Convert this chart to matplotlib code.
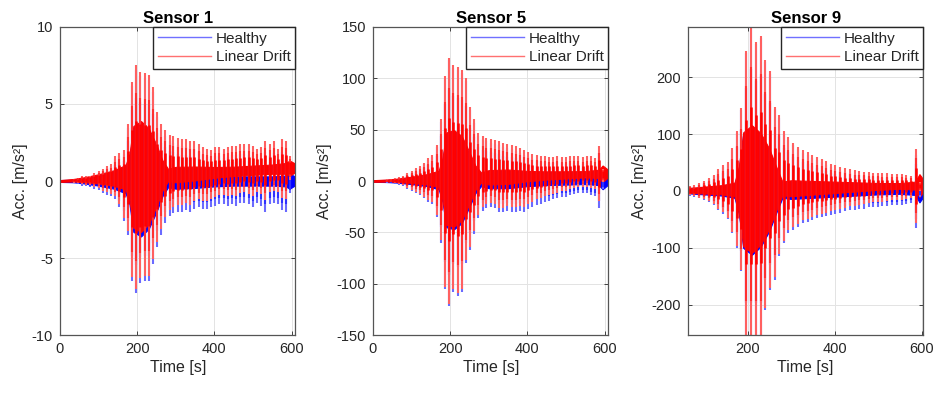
import numpy as np
import matplotlib.pyplot as plt
from matplotlib.lines import Line2D

plt.rcParams.update({"font.family": ["Liberation Sans", "DejaVu Sans"], "font.size": 10,
                     "axes.unicode_minus": False})

# spike (axle crossing) times, shared by all sensors [s]
T = [35, 46, 57, 68, 78, 89, 100, 111, 122, 132, 143, 154, 165, 176, 186,
     197, 208, 219, 230, 240, 251, 262, 273, 284, 294, 305, 316, 327, 338, 348,
     359, 370, 381, 392, 402, 413, 424, 435, 446, 456, 467, 478, 489, 500, 510,
     521, 532, 543, 554, 564, 575, 586, 597]
# time grid of the dense ringing band between spikes
CORE_T = [0, 34, 60, 100, 140, 170, 180, 190, 210, 230, 250, 265, 280, 300, 350,
          400, 450, 500, 550, 585, 595, 608]

# ---- Sensor 1 ----
s1_hi = [0.1, 0.14, 0.22, 0.25, 0.24, 0.38, 0.5, 0.64, 0.83, 0.92, 1.4, 1.63, 1.77, 3.45, 6.14,
         7.22, 6.81, 6.69, 6.58, 5.76, 4.15, 3.33, 2.92, 2.6, 2.49, 2.37, 2.26, 2.24, 2.13, 2.11,
         1.9, 1.68, 1.57, 1.45, 1.64, 1.62, 1.51, 1.59, 1.68, 1.66, 1.75, 1.73, 1.72, 1.6, 1.39,
         1.47, 1.86, 1.64, 1.82, 1.31, 1.9, 1.78, 0.76]
s1_lo = [-0.15, -0.2, -0.3, -0.35, -0.4, -0.5, -0.6, -0.8, -0.9, -1.0, -1.2, -1.7, -2.6, -3.5, -6.5,
         -7.3, -6.6, -6.5, -6.5, -5.4, -4.3, -3.5, -2.7, -2.3, -2.1, -2.0, -2.0, -1.9, -2.0, -1.8,
         -1.7, -1.8, -1.8, -1.7, -1.6, -1.5, -1.5, -1.6, -1.5, -1.6, -1.4, -1.4, -1.5, -1.7, -1.4,
         -1.6, -2.0, -1.5, -1.4, -1.5, -1.9, -2.0, -0.8]
s1_drift = [0.05, 0.06, 0.08, 0.1, 0.11, 0.12, 0.14, 0.16, 0.17, 0.18, 0.2, 0.22, 0.23, 0.25, 0.26,
            0.28, 0.29, 0.31, 0.32, 0.34, 0.35, 0.37, 0.38, 0.4, 0.41, 0.43, 0.44, 0.46, 0.47, 0.49,
            0.5, 0.52, 0.53, 0.55, 0.56, 0.58, 0.59, 0.61, 0.62, 0.64, 0.65, 0.67, 0.68, 0.7, 0.71,
            0.73, 0.74, 0.76, 0.78, 0.79, 0.8, 0.82, 0.84]
s1_core = [0.06, 0.08, 0.15, 0.3, 0.5, 0.8, 1.5, 3.3, 3.6, 3.1, 2.0, 1.0, 0.4, 0.5, 0.45,
           0.35, 0.3, 0.3, 0.3, 0.35, 0.5, 0.3]
s1_core_drift = [0, 0.05, 0.08, 0.14, 0.2, 0.24, 0.25, 0.27, 0.29, 0.32, 0.35, 0.37, 0.39, 0.42, 0.49,
                 0.56, 0.63, 0.7, 0.77, 0.82, 0.83, 0.85]

# ---- Sensor 5 ----
s5_hi = [1.1, 1.4, 1.8, 2.7, 4.1, 6.9, 8.8, 11.7, 13.5, 16.4, 20.3, 23.2, 33, 57.9, 99.8,
         117.6, 110.5, 108.4, 105.2, 97.1, 69, 56.9, 43.7, 40.6, 38.5, 37.3, 36.2, 35.1, 32.9, 31.8,
         30.7, 29.6, 27.4, 25.3, 23.2, 21, 19.9, 18.8, 18.6, 17.5, 17.4, 18.3, 17.1, 17, 17.9,
         17.7, 17.6, 16.5, 17.4, 17.2, 15.1, 27, 4.8]
s5_lo = [-1.5, -2, -2.5, -3.5, -5, -8, -10, -12, -14, -17, -20, -22, -35, -60, -105,
         -122, -108, -112, -108, -80, -67, -52, -36, -29, -26, -25, -26, -30, -30, -29,
         -30, -30, -29, -30, -27, -25, -23, -22, -20, -19, -18, -17, -16, -16, -14,
         -13, -12, -12, -12, -14, -15, -26, -8]
s5_drift = [0.4, 0.6, 0.7, 0.8, 0.9, 1.1, 1.2, 1.3, 1.5, 1.6, 1.7, 1.8, 2.0, 2.1, 2.2,
            2.4, 2.5, 2.6, 2.8, 2.9, 3.0, 3.1, 3.3, 3.4, 3.5, 3.7, 3.8, 3.9, 4.1, 4.2,
            4.3, 4.4, 4.6, 4.7, 4.8, 5.0, 5.1, 5.2, 5.4, 5.5, 5.6, 5.7, 5.9, 6.0, 6.1,
            6.3, 6.4, 6.5, 6.6, 6.8, 6.9, 7.0, 7.2]
s5_core = [0.8, 1.0, 1.5, 3, 5, 8, 20, 45, 47, 41, 25, 12, 5, 7, 7, 5, 4, 3.5, 3, 4, 8, 4]
s5_core_drift = [0, 0.4, 0.7, 1.2, 1.7, 2.0, 2.2, 2.3, 2.5, 2.8, 3.0, 3.2, 3.4, 3.6, 4.2,
                 4.8, 5.4, 6.0, 6.6, 7.0, 7.1, 7.3]

# ---- Sensor 9 ----
s9_hi = [4.4, 5.3, 6.1, 6.9, 8.8, 12.6, 16.4, 20.2, 26, 35.9, 42.7, 47.5, 72.4, 102.2, 142,
         241.8, 286.7, 258.5, 268.3, 226.2, 206, 143.8, 128.6, 100.5, 90.3, 80.1, 72.9, 66.8, 62.6, 57.4,
         54.3, 50.1, 45.9, 41.7, 38.6, 35.4, 33.2, 31, 28.9, 27.7, 26.5, 25.4, 24.2, 24, 22.8,
         22.7, 21.5, 21.3, 20.1, 19, 17.8, 63.6, 5.4]
s9_lo = [-5, -6, -7, -8, -10, -13, -16, -20, -25, -33, -40, -50, -74, -100, -141,
         -262, -262, -262, -262, -209, -174, -156, -115, -92, -74, -68, -63, -57, -54, -51,
         -48, -46, -44, -42, -40, -38, -36, -34, -33, -32, -31, -29, -28, -28, -27,
         -26, -25, -25, -24, -23, -22, -65, -10]
s9_drift = [0.6, 0.7, 0.9, 1.1, 1.2, 1.4, 1.6, 1.8, 2.0, 2.1, 2.3, 2.5, 2.6, 2.8, 3.0,
            3.2, 3.3, 3.5, 3.7, 3.8, 4.0, 4.2, 4.4, 4.5, 4.7, 4.9, 5.1, 5.2, 5.4, 5.6,
            5.7, 5.9, 6.1, 6.3, 6.4, 6.6, 6.8, 7.0, 7.1, 7.3, 7.5, 7.6, 7.8, 8.0, 8.2,
            8.3, 8.5, 8.7, 8.9, 9.0, 9.2, 9.4, 9.6]
s9_core = [3, 3, 4, 6, 8, 12, 40, 100, 112, 98, 70, 40, 12, 14, 12, 10, 8, 6, 5, 7, 20, 6]
s9_core_drift = [0, 0.5, 1, 1.6, 2.2, 2.7, 2.9, 3.0, 3.4, 3.7, 4.0, 4.2, 4.5, 4.8, 5.6,
                 6.4, 7.2, 8.0, 8.8, 9.4, 9.5, 9.7]

TITLES = ["Sensor 1", "Sensor 5", "Sensor 9"]
XLIMS = [(0, 610), (0, 610), (63, 604)]
YLIMS = [(-10, 10), (-150, 150), (-253, 288)]
XTICKS = [[0, 200, 400, 600], [0, 200, 400, 600], [200, 400, 600]]
YTICKS = [np.arange(-10, 11, 5), np.arange(-150, 151, 50), np.arange(-200, 201, 100)]
DATA = [(s1_hi, s1_lo, s1_drift, s1_core, s1_core_drift),
        (s5_hi, s5_lo, s5_drift, s5_core, s5_core_drift),
        (s9_hi, s9_lo, s9_drift, s9_core, s9_core_drift)]

BLUE_L, BLUE_M, BLUE = "#6a6aff", "#3030ff", "#0000ff"
RED_L, RED_M, RED = "#ff6060", "#ff3030", "#ff0000"
TXT = "#262626"


def draw(ax, hi, lo, drift, core, cdrift):
    t = np.array(T); hi = np.array(hi); lo = np.array(lo); d = np.array(drift)
    ct = np.array(CORE_T); c = np.array(core); cd = np.array(cdrift)
    # healthy
    ax.vlines(t, lo, hi, color=BLUE_L, lw=1.5)
    ax.vlines(t, 0.75 * lo, 0.75 * hi, color=BLUE_M, lw=1.5)
    ax.fill_between(ct, -c, c, color=BLUE, lw=0.8)
    # healthy + linear drift
    ax.vlines(t, lo + d, hi + d, color=RED_L, lw=1.5)
    ax.vlines(t, 0.75 * lo + d, 0.75 * hi + d, color=RED_M, lw=1.5)
    ax.vlines(t, 0.5 * lo + d, 0.5 * hi + d, color=RED, lw=1.8)
    ax.fill_between(ct, cd - c, cd + c, color=RED, lw=0.8)


fig = plt.figure(figsize=(9.36, 3.94), dpi=100)
lefts = [0.0641, 0.3985, 0.735]
for i in range(3):
    ax = fig.add_axes([lefts[i], 0.1497, 0.2515, 0.7818])
    draw(ax, *DATA[i])
    ax.set_xlim(*XLIMS[i]); ax.set_ylim(*YLIMS[i])
    ax.set_xticks(XTICKS[i]); ax.set_yticks(YTICKS[i])
    ax.grid(True, color="#e3e3e3", lw=0.7); ax.set_axisbelow(True)
    ax.tick_params(direction="in", length=3, width=0.6, top=True, right=True,
                   colors=TXT, labelsize=10.5, pad=5)
    for s in ax.spines.values():
        s.set_color("#555555"); s.set_linewidth(0.9)
    ax.set_title(TITLES[i], fontsize=12, fontweight="bold", pad=3)
    ax.set_xlabel("Time [s]", fontsize=11.5, color=TXT, labelpad=3)
    ax.set_ylabel("Acc. [m/s²]", fontsize=11.5, color=TXT, labelpad=3)
    handles = [Line2D([], [], color="#7070ff", lw=1.0), Line2D([], [], color="#ff7070", lw=1.0)]
    leg = ax.legend(handles, ["Healthy", "Linear Drift"], loc="upper right", borderaxespad=0,
                    fancybox=False, edgecolor=TXT, framealpha=1, fontsize=11,
                    handlelength=3.5, handletextpad=0.3, borderpad=0.3, labelspacing=0.3)
    leg.get_frame().set_linewidth(1.0)
    for tx in leg.get_texts():
        tx.set_color(TXT)

fig.savefig("out.png", dpi=100)
